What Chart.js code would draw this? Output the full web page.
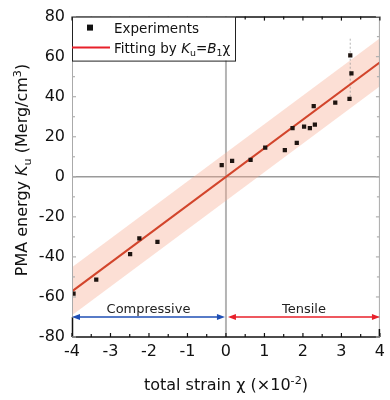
<!DOCTYPE html>
<html><head><meta charset="utf-8">
<script src="https://cdn.jsdelivr.net/npm/chart.js@4"></script>
<style>html,body{margin:0;padding:0;background:#fff}#wrap{width:390px;height:400px}</style>
</head><body><div id="wrap"><canvas id="c" width="390" height="400"></canvas></div>
<script>
// ---- data ----
const strainX = [-3.96,-3.37,-2.49,-2.25,-1.78,-0.11,0.16,0.64,1.02,1.53,1.84,1.73,2.03,2.18,2.31,2.28,2.84,3.21,3.26,3.23];
const energyY = [-58.3,-51.4,-38.6,-30.7,-32.5,5.8,8.0,8.4,14.6,13.3,16.9,24.3,25.1,24.3,26.0,35.3,37.1,38.9,51.7,60.6];
const fitX = [-4, 4];
const fitY = [-57.2, 57.2];
const bandUpper = [-45.2, 69.2];
const bandLower = [-69.2, 45.2];
const errX = [3.23, 3.23];
const errY = [38, 70];
const xTicks = [-4,-3,-2,-1,0,1,2,3,4];
const yTicks = [-80,-60,-40,-20,0,20,40,60,80];
const regionY = -70;
const regionLabels = ["Compressive","Tensile"];
const regionBounds = [[-4,0],[0,4]];

const pts = (xs, ys) => xs.map((x,i)=>({x, y: ys[i]}));
const FONT = '"DejaVu Sans", Verdana, sans-serif';

function richText(ctx, x, y, segs, size, align){
  const meas = segs.map(([t,s])=>{
    const fs = (s==='sub'||s==='sup') ? size*0.7 : size;
    ctx.font = ((s==='i')?'italic ':'') + fs + 'px ' + FONT;
    return ctx.measureText(t).width;
  });
  const total = meas.reduce((a,b)=>a+b,0);
  let cx = align==='center' ? x - total/2 : x;
  segs.forEach(([t,s],k)=>{
    const fs = (s==='sub'||s==='sup') ? size*0.7 : size;
    ctx.font = ((s==='i')?'italic ':'') + fs + 'px ' + FONT;
    let dy = 0;
    if (s==='sub') dy = size*0.25;
    if (s==='sup') dy = -size*0.4;
    ctx.fillText(t, cx, y+dy);
    cx += meas[k];
  });
}

const deco = {
  id:'deco',
  beforeDatasetsDraw(chart){
    const {ctx, chartArea:a, scales:{x,y}} = chart;
    ctx.save();
    ctx.strokeStyle = '#b4b4b4'; ctx.lineWidth = 2;
    ctx.beginPath(); ctx.moveTo(x.getPixelForValue(0), a.top); ctx.lineTo(x.getPixelForValue(0), a.bottom); ctx.stroke();
    ctx.strokeStyle = '#9a9a9a'; ctx.lineWidth = 1.5;
    ctx.beginPath(); ctx.moveTo(a.left, y.getPixelForValue(0)); ctx.lineTo(a.right, y.getPixelForValue(0)); ctx.stroke();
    ctx.restore();
  },
  afterDraw(chart){
    const {ctx, chartArea:a, scales:{x,y}} = chart;
    ctx.save();
    ctx.lineWidth = 1;
    ctx.strokeStyle = '#aaaaaa';
    ctx.beginPath(); ctx.moveTo(a.left+0.5, a.top); ctx.lineTo(a.left+0.5, a.bottom-20); ctx.stroke();
    ctx.beginPath(); ctx.moveTo(a.right-0.5, a.top); ctx.lineTo(a.right-0.5, a.bottom); ctx.stroke();
    ctx.strokeStyle = '#111';
    ctx.lineWidth = 1.5;
    ctx.beginPath(); ctx.moveTo(a.left, a.top+0.5); ctx.lineTo(a.right, a.top+0.5); ctx.stroke();
    ctx.beginPath(); ctx.moveTo(a.left, a.bottom); ctx.lineTo(a.right, a.bottom); ctx.stroke();
    ctx.beginPath(); ctx.moveTo(a.left+0.5, a.bottom-20); ctx.lineTo(a.left+0.5, a.bottom); ctx.stroke();
    ctx.beginPath(); ctx.moveTo(a.right-0.5, a.bottom-8); ctx.lineTo(a.right-0.5, a.bottom); ctx.stroke();
    ctx.lineWidth = 1.2; ctx.strokeStyle = '#111';
    for (let v=-4; v<=4.001; v+=0.5){
      const px = x.getPixelForValue(v);
      const major = Math.abs(v-Math.round(v))<1e-6;
      const L = major?4:3;
      ctx.beginPath(); ctx.moveTo(px, a.bottom); ctx.lineTo(px, a.bottom-L); ctx.stroke();
      ctx.beginPath(); ctx.moveTo(px, a.top); ctx.lineTo(px, a.top+L); ctx.stroke();
    }
    ctx.strokeStyle = '#b0b0b0';
    for (let v=-80; v<=80; v+=10){
      const py = y.getPixelForValue(v);
      const major = v%20===0;
      const L = major?4:3;
      ctx.beginPath(); ctx.moveTo(a.left, py); ctx.lineTo(a.left+L, py); ctx.stroke();
      ctx.beginPath(); ctx.moveTo(a.right, py); ctx.lineTo(a.right-L, py); ctx.stroke();
    }
    const ay = y.getPixelForValue(regionY);
    const cols = ['#1f4fb5','#e8202a'];
    regionBounds.forEach((b,i)=>{
      const x0 = x.getPixelForValue(b[0]) + (i===1?2:0), x1 = x.getPixelForValue(b[1]) - (i===0?1:0);
      ctx.strokeStyle = cols[i]; ctx.fillStyle = cols[i]; ctx.lineWidth = 1.5;
      ctx.beginPath(); ctx.moveTo(x0+4, ay); ctx.lineTo(x1-4, ay); ctx.stroke();
      ctx.beginPath(); ctx.moveTo(x0, ay); ctx.lineTo(x0+8, ay-3); ctx.lineTo(x0+8, ay+3); ctx.closePath(); ctx.fill();
      ctx.beginPath(); ctx.moveTo(x1, ay); ctx.lineTo(x1-8, ay-3); ctx.lineTo(x1-8, ay+3); ctx.closePath(); ctx.fill();
      ctx.fillStyle = '#222'; ctx.font = '13px ' + FONT; ctx.textAlign='center'; ctx.textBaseline='alphabetic';
      ctx.fillText(regionLabels[i], (x0+x1)/2, ay-4);
    });
    ctx.textAlign='left'; ctx.textBaseline='alphabetic';
    const lx = a.left, ly = a.top, lw = 164, lh = 44;
    ctx.fillStyle = '#fff'; ctx.fillRect(lx, ly, lw, lh);
    ctx.strokeStyle = '#222'; ctx.lineWidth = 1;
    ctx.strokeRect(lx+0.5, ly+0.5, lw-1, lh);
    ctx.fillStyle = '#111'; ctx.fillRect(lx+15, ly+8, 6, 6);
    ctx.strokeStyle = '#e8202a'; ctx.lineWidth = 2;
    ctx.beginPath(); ctx.moveTo(lx, ly+31); ctx.lineTo(lx+38, ly+31); ctx.stroke();
    ctx.fillStyle = '#111';
    richText(ctx, lx+42, ly+16, [['Experiments','n']], 13.5, 'left');
    richText(ctx, lx+42, ly+36, [['Fitting by ','n'],['K','i'],['u','sub'],['=','n'],['B','i'],['1','sub'],['\u03C7','n']], 13.5, 'left');
    ctx.fillStyle = '#111';
    richText(ctx, (a.left+a.right)/2, 390, [['total strain \u03C7 (\u00D710','n'],['-2','sup'],[')','n']], 16, 'center');
    ctx.save();
    ctx.translate(27, 170);
    ctx.rotate(-Math.PI/2);
    richText(ctx, 0, 0, [['PMA energy ','n'],['K','i'],['u','sub'],[' (Merg/cm','n'],['3','sup'],[')','n']], 16, 'center');
    ctx.restore();
    ctx.restore();
  }
};

new Chart(document.getElementById('c'), {
  type:'scatter',
  data:{ datasets:[
    { type:'line', order:4, data: pts(fitX, bandUpper), borderWidth:0, pointRadius:0, fill:'+1', backgroundColor:'rgba(246,170,145,0.38)', borderColor:'rgba(0,0,0,0)' },
    { type:'line', order:5, data: pts(fitX, bandLower), borderWidth:0, pointRadius:0, fill:false, borderColor:'rgba(0,0,0,0)' },
    { type:'line', order:3, data: pts(errX, errY), borderWidth:1.2, borderColor:'rgba(150,150,150,0.6)', borderDash:[2,2], pointRadius:0, fill:false },
    { type:'line', order:2, data: pts(fitX, fitY), borderWidth:2, borderColor:'#d2452c', pointRadius:0, fill:false },
    { order:1, data: pts(strainX, energyY), pointStyle:'rect', pointRadius:3, backgroundColor:'#1e1410', borderColor:'#1e1410', borderWidth:0 }
  ]},
  options:{
    responsive:false, animation:false, devicePixelRatio:1,
    layout:{ padding:{ left:0, right:9, top:12, bottom:0 } },
    plugins:{ legend:{display:false}, tooltip:{enabled:false} },
    scales:{
      x:{ type:'linear', min:-4, max:4, afterBuildTicks(s){ s.ticks = xTicks.map(v=>({value:v})); },
        grid:{display:false, drawTicks:false}, border:{display:false},
        ticks:{ font:{family:FONT, size:16}, color:'#111', padding:5, maxRotation:0 },
        afterFit(s){ s.height = 63; } },
      y:{ type:'linear', min:-80, max:80, afterBuildTicks(s){ s.ticks = yTicks.map(v=>({value:v})); },
        grid:{display:false, drawTicks:false}, border:{display:false},
        ticks:{ font:{family:FONT, size:16}, color:'#111', padding:7 },
        afterFit(s){ s.width = 72; } }
    }
  },
  plugins:[deco]
});
</script></body></html>
